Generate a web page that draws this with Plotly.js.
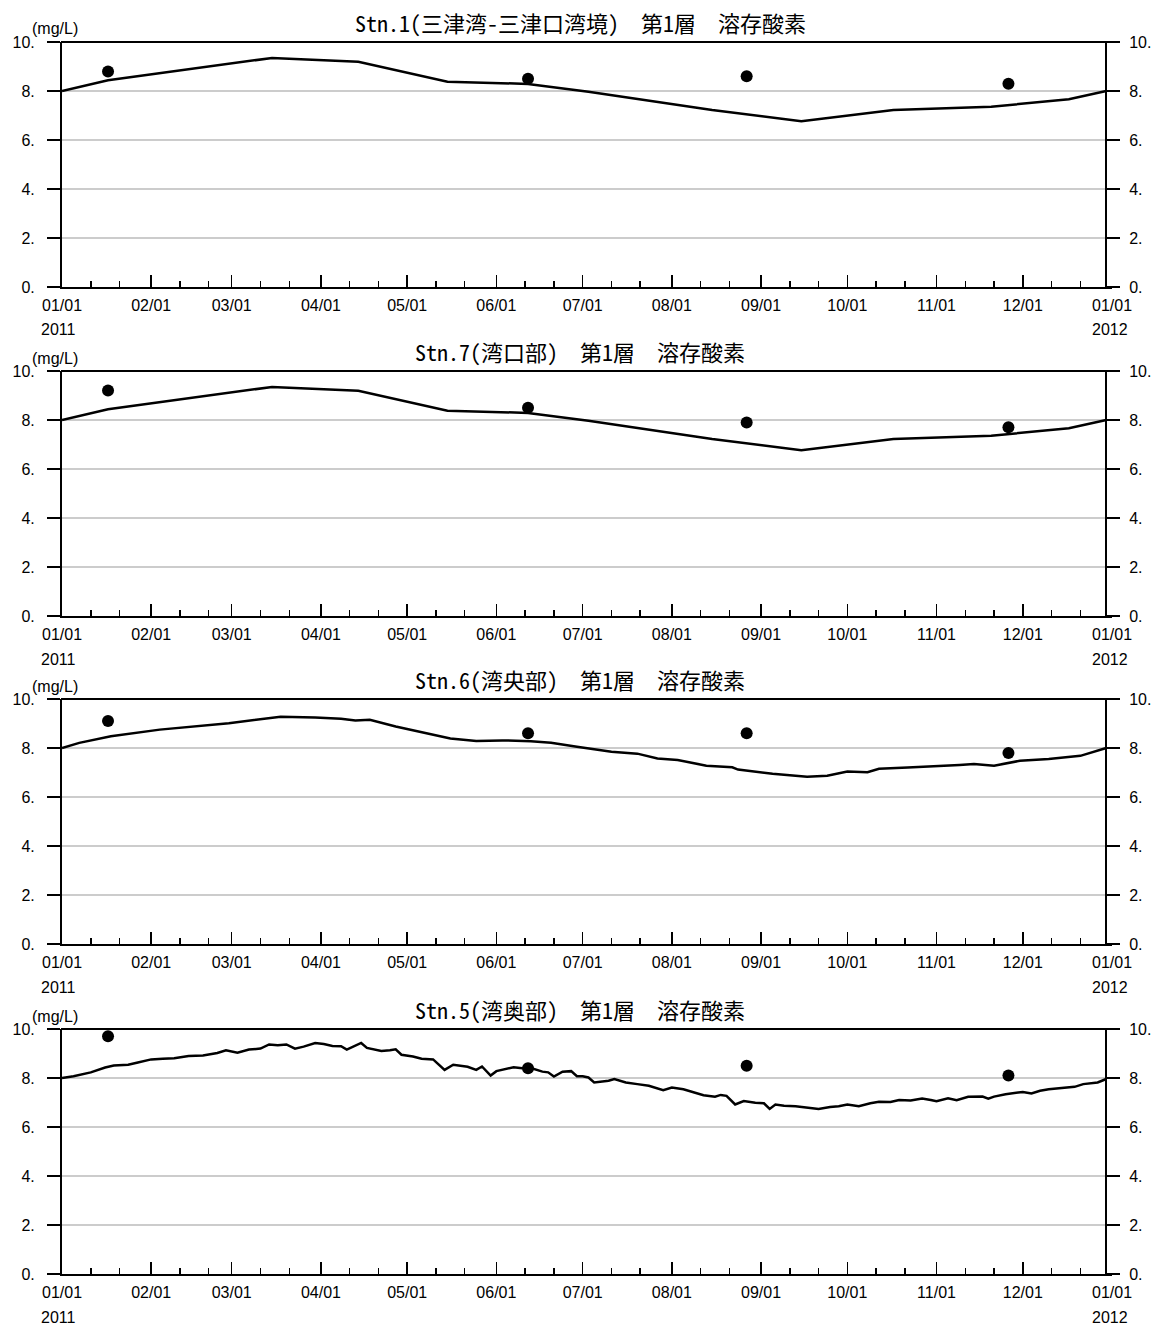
<!DOCTYPE html>
<html>
<head>
<meta charset="utf-8">
<script src="https://cdn.plot.ly/plotly-3.0.1.min.js"></script>
<style>html,body{margin:0;padding:0;background:#fff;}#chart{width:1161px;height:1327px;}</style>
</head>
<body>
<div id="chart"></div>
<script>
// ---------- DATA ----------
const monthTickDates = ['2011-01-01','2011-02-01','2011-03-01','2011-04-01','2011-05-01','2011-06-01','2011-07-01','2011-08-01','2011-09-01','2011-10-01','2011-11-01','2011-12-01','2012-01-01'];
const monthTickLabels = ['01/01','02/01','03/01','04/01','05/01','06/01','07/01','08/01','09/01','10/01','11/01','12/01','01/01'];
const yTickValues = [0,2,4,6,8,10];
const yTickLabels = ['0.','2.','4.','6.','8.','10.'];
const yearLabels = ['2011','2012'];
const unitLabel = '(mg/L)';

const panelTitles = [
  'Stn.1(三津湾-三津口湾境)　第1層　溶存酸素',
  'Stn.7(湾口部)　第1層　溶存酸素',
  'Stn.6(湾央部)　第1層　溶存酸素',
  'Stn.5(湾奥部)　第1層　溶存酸素'
];

const obsDates = ['2011-01-17','2011-06-12','2011-08-27','2011-11-26'];
const stn1Obs = [8.8, 8.5, 8.6, 8.3];
const stn7Obs = [9.2, 8.5, 7.9, 7.7];
const stn6Obs = [9.1, 8.6, 8.6, 7.8];
const stn5Obs = [9.7, 8.4, 8.5, 8.1];

const stn1LineDates = ['2011-01-01','2011-01-17','2011-03-15','2011-04-14','2011-05-15','2011-06-12','2011-07-03','2011-08-15','2011-09-15','2011-10-17','2011-11-20','2011-12-17','2011-12-30'];
const stn1LineDO    = [8.0, 8.44, 9.35, 9.19, 8.38, 8.29, 7.97, 7.22, 6.77, 7.22, 7.36, 7.66, 8.0];

const stn7LineDates = ['2011-01-01','2011-01-17','2011-03-15','2011-04-14','2011-05-15','2011-06-12','2011-07-03','2011-08-15','2011-09-15','2011-10-17','2011-11-20','2011-12-17','2011-12-30'];
const stn7LineDO    = [8.0, 8.44, 9.35, 9.19, 8.38, 8.29, 7.97, 7.22, 6.77, 7.22, 7.36, 7.66, 8.0];

const stn6LineDates = ['2011-01-01','2011-01-07','2011-01-18','2011-02-04','2011-02-28','2011-03-18','2011-03-30','2011-04-08','2011-04-13','2011-04-18','2011-04-27','2011-05-06','2011-05-16','2011-05-25','2011-06-03','2011-06-13','2011-06-20','2011-06-29','2011-07-11','2011-07-20','2011-07-27','2011-08-03','2011-08-13','2011-08-22','2011-08-24','2011-09-05','2011-09-17','2011-09-24','2011-10-01','2011-10-08','2011-10-12','2011-10-22','2011-10-31','2011-11-09','2011-11-14','2011-11-21','2011-11-30','2011-12-10','2011-12-21','2011-12-30'];
const stn6LineDO    = [8.0, 8.21, 8.48, 8.75, 9.01, 9.28, 9.24, 9.19, 9.12, 9.15, 8.88, 8.65, 8.39, 8.29, 8.31, 8.28, 8.21, 8.05, 7.85, 7.77, 7.57, 7.51, 7.28, 7.21, 7.12, 6.95, 6.83, 6.87, 7.04, 7.01, 7.15, 7.2, 7.24, 7.31, 7.35, 7.28, 7.48, 7.55, 7.68, 8.0];

const stn5LineDates = ['2011-01-01','2011-01-05','2011-01-11','2011-01-16','2011-01-19','2011-01-24','2011-01-27','2011-02-01','2011-02-05','2011-02-09','2011-02-14','2011-02-19','2011-02-24','2011-02-27','2011-03-03','2011-03-07','2011-03-11','2011-03-14','2011-03-17','2011-03-20','2011-03-23','2011-03-26','2011-03-30','2011-04-02','2011-04-05','2011-04-08','2011-04-10','2011-04-13','2011-04-15','2011-04-17','2011-04-20','2011-04-22','2011-04-25','2011-04-27','2011-04-29','2011-05-03','2011-05-06','2011-05-10','2011-05-14','2011-05-17','2011-05-22','2011-05-25','2011-05-27','2011-05-30','2011-06-01','2011-06-05','2011-06-07','2011-06-10','2011-06-13','2011-06-17','2011-06-19','2011-06-21','2011-06-24','2011-06-27','2011-06-29','2011-07-01','2011-07-03','2011-07-05','2011-07-08','2011-07-10','2011-07-12','2011-07-16','2011-07-20','2011-07-24','2011-07-29','2011-08-01','2011-08-05','2011-08-09','2011-08-12','2011-08-16','2011-08-18','2011-08-20','2011-08-23','2011-08-26','2011-08-30','2011-09-02','2011-09-04','2011-09-06','2011-09-09','2011-09-13','2011-09-16','2011-09-19','2011-09-21','2011-09-25','2011-09-28','2011-10-01','2011-10-03','2011-10-05','2011-10-09','2011-10-12','2011-10-16','2011-10-19','2011-10-23','2011-10-27','2011-10-30','2011-11-01','2011-11-05','2011-11-08','2011-11-12','2011-11-17','2011-11-19','2011-11-21','2011-11-25','2011-11-29','2011-12-01','2011-12-04','2011-12-07','2011-12-10','2011-12-15','2011-12-19','2011-12-22','2011-12-27','2011-12-30'];
const stn5LineDO    = [8.0, 8.07, 8.23, 8.43, 8.51, 8.54, 8.62, 8.76, 8.79, 8.81, 8.9, 8.92, 9.02, 9.13, 9.03, 9.16, 9.2, 9.37, 9.34, 9.37, 9.2, 9.28, 9.43, 9.39, 9.31, 9.3, 9.16, 9.34, 9.43, 9.23, 9.17, 9.1, 9.13, 9.17, 8.95, 8.88, 8.79, 8.76, 8.33, 8.54, 8.46, 8.33, 8.47, 8.1, 8.28, 8.37, 8.44, 8.4, 8.41, 8.26, 8.23, 8.06, 8.26, 8.28, 8.07, 8.07, 8.02, 7.82, 7.85, 7.89, 7.96, 7.82, 7.75, 7.68, 7.5, 7.61, 7.54, 7.41, 7.3, 7.24, 7.31, 7.27, 6.92, 7.06, 6.99, 6.97, 6.74, 6.92, 6.87, 6.85, 6.8, 6.76, 6.74, 6.82, 6.85, 6.92, 6.87, 6.85, 6.97, 7.03, 7.02, 7.1, 7.08, 7.16, 7.1, 7.05, 7.17, 7.09, 7.23, 7.24, 7.16, 7.24, 7.34, 7.41, 7.43, 7.37, 7.48, 7.54, 7.59, 7.64, 7.75, 7.82, 7.96];

const panels = [
  {title: panelTitles[0], lineX: stn1LineDates, lineY: stn1LineDO, obsX: obsDates, obsY: stn1Obs},
  {title: panelTitles[1], lineX: stn7LineDates, lineY: stn7LineDO, obsX: obsDates, obsY: stn7Obs},
  {title: panelTitles[2], lineX: stn6LineDates, lineY: stn6LineDO, obsX: obsDates, obsY: stn6Obs},
  {title: panelTitles[3], lineX: stn5LineDates, lineY: stn5LineDO, obsX: obsDates, obsY: stn5Obs}
];

// ---------- LAYOUT ----------
const W = 1161, H = 1327;
const plotLeft = 62, plotRight = 1112, frameRight = 1106;
const panelTopPx = [42, 371, 699, 1029];
const panelH = 245;
const tickFont = {family: 'Arial, "Liberation Sans", sans-serif', size: 16, color: '#000'};
const titleFont = {family: '"Noto Sans Mono CJK JP", "Noto Sans CJK JP", sans-serif', size: 22, color: '#000'};

// minor x ticks on the 11th and 21st of every month
const minorTicks = [];
for (let m = 1; m <= 12; m++) {
  const mm = String(m).padStart(2, '0');
  minorTicks.push('2011-' + mm + '-11', '2011-' + mm + '-21');
}

const px = v => v / W;
const py = v => 1 - v / H;

const traces = [];
const layout = {
  width: W, height: H,
  margin: {l: 0, r: 0, t: 0, b: 0},
  paper_bgcolor: '#fff', plot_bgcolor: '#fff',
  showlegend: false,
  shapes: [], annotations: []
};

panels.forEach((p, i) => {
  const n = i + 1;
  const xName = n === 1 ? 'x' : 'x' + n;
  const yName = n === 1 ? 'y' : 'y' + n;
  const yRName = 'y' + (n + 4);
  const top = panelTopPx[i], bot = top + panelH;

  layout[n === 1 ? 'xaxis' : 'xaxis' + n] = {
    domain: [px(plotLeft), px(plotRight)], anchor: yName,
    type: 'date', range: ['2011-01-01', '2012-01-01'],
    showline: true, linewidth: 2, linecolor: '#000',
    ticks: 'inside', ticklen: 12, tickwidth: 1.5, tickcolor: '#000',
    tickmode: 'array', tickvals: monthTickDates, ticktext: monthTickLabels,
    tickfont: tickFont, showgrid: false, zeroline: false, fixedrange: true, ticklabelstandoff: 3,
    minor: {tickmode: 'array', tickvals: minorTicks, ticks: 'inside', ticklen: 6, tickwidth: 1.5, tickcolor: '#000', showgrid: false}
  };
  const yBase = {
    range: [0, 10], tickmode: 'array', tickvals: yTickValues, ticktext: yTickLabels,
    ticks: 'outside', ticklen: 13, tickwidth: 1.5, tickcolor: '#000',
    showline: true, linewidth: 2, linecolor: '#000',
    tickfont: tickFont, showgrid: false, zeroline: false, fixedrange: true
  };
  layout[n === 1 ? 'yaxis' : 'yaxis' + n] = Object.assign({}, yBase, {
    domain: [py(bot), py(top)], anchor: xName, side: 'left', ticklabelstandoff: 9
  });
  layout['yaxis' + (n + 4)] = Object.assign({}, yBase, {
    overlaying: yName, anchor: 'free', position: px(frameRight), side: 'right', ticklabelstandoff: 6
  });

  // grid lines and top frame
  [2, 4, 6, 8].forEach(g => layout.shapes.push({
    type: 'line', xref: 'paper', yref: yName, x0: px(plotLeft), x1: px(frameRight), y0: g, y1: g,
    line: {color: '#999', width: 1}, layer: 'below'
  }));
  layout.shapes.push({
    type: 'line', xref: 'paper', yref: 'paper', x0: px(plotLeft - 1), x1: px(frameRight + 1), y0: py(top), y1: py(top),
    line: {color: '#000', width: 2}
  });

  layout.annotations.push(
    {xref: 'paper', yref: 'paper', x: px(580), y: py(top - 20), text: p.title, showarrow: false,
     font: titleFont, xanchor: 'center', yanchor: 'middle'},
    {xref: 'paper', yref: 'paper', x: px(55), y: py(top - 13), text: unitLabel, showarrow: false,
     font: tickFont, xanchor: 'center', yanchor: 'middle'},
    {xref: 'paper', yref: 'paper', x: px(plotLeft - 4), y: py(bot + 43), text: yearLabels[0], showarrow: false,
     font: tickFont, xanchor: 'center', yanchor: 'middle'},
    {xref: 'paper', yref: 'paper', x: px(plotRight - 2), y: py(bot + 43), text: yearLabels[1], showarrow: false,
     font: tickFont, xanchor: 'center', yanchor: 'middle'}
  );

  traces.push({
    type: 'scatter', mode: 'lines', x: p.lineX, y: p.lineY, xaxis: xName, yaxis: yName,
    line: {color: '#000', width: 2.5}, hoverinfo: 'skip'
  });
  traces.push({
    type: 'scatter', mode: 'markers', x: p.obsX, y: p.obsY, xaxis: xName, yaxis: yName,
    marker: {color: '#000', size: 12}, hoverinfo: 'skip', cliponaxis: false
  });
  traces.push({
    type: 'scatter', mode: 'markers', x: [], y: [], xaxis: xName, yaxis: yRName, hoverinfo: 'skip'
  });
});

Plotly.newPlot('chart', traces, layout, {displayModeBar: false, staticPlot: true});
</script>
</body>
</html>
